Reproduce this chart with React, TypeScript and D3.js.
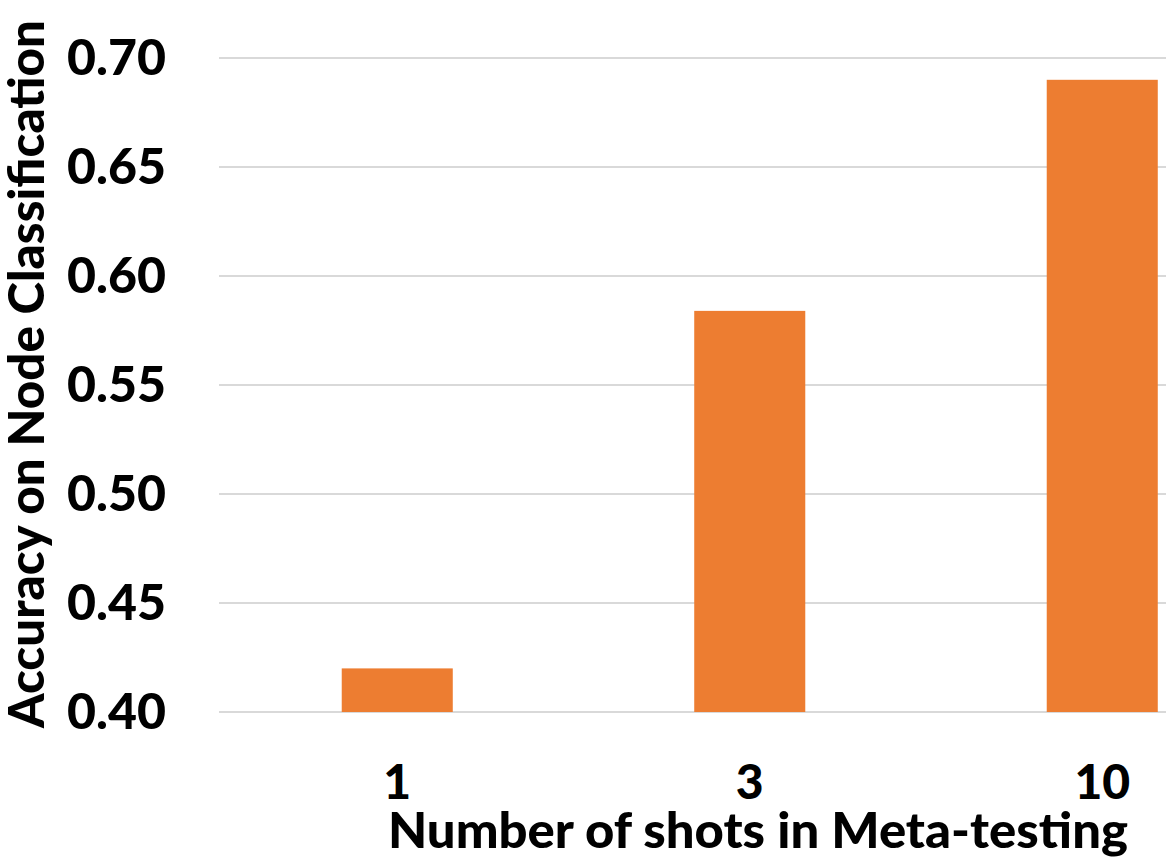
import React from "react";
import * as d3 from "d3";

const categories = ["1", "3", "10"];
const accuracy = [0.42, 0.584, 0.69];
const yTicks = [0.4, 0.45, 0.5, 0.55, 0.6, 0.65, 0.7];
const xTitle = "Number of shots in Meta-testing";
const yTitle = "Accuracy on Node Classification";

const W = 1166;
const H = 861;
const FONT = "Lato, 'Open Sans', sans-serif";

export default function App() {
  const x = d3
    .scaleBand<string>()
    .domain(categories)
    .range([221, 1278.5])
    .paddingInner(0.685)
    .paddingOuter(0.3425);
  const y = d3.scaleLinear().domain([0.4, 0.7]).range([712, 58]);
  const fmt = d3.format(".2f");

  return (
    <svg
      width={W}
      height={H}
      style={{ position: "absolute", left: 0, top: 0, background: "#fff" }}
    >
      <rect x={0} y={0} width={W} height={H} fill="#fff" />
      {yTicks.map((t) => (
        <line
          key={t}
          x1={219}
          x2={W}
          y1={y(t)}
          y2={y(t)}
          stroke="#d9d9d9"
          strokeWidth={2.2}
        />
      ))}
      {categories.map((c, i) => (
        <rect
          key={c}
          x={x(c)}
          y={y(accuracy[i])}
          width={x.bandwidth()}
          height={y(0.4) - y(accuracy[i])}
          fill="#ED7D31"
        />
      ))}
      {yTicks.map((t) => (
        <text
          key={t}
          x={166}
          y={y(t) + 17}
          textAnchor="end"
          fontFamily={FONT}
          fontWeight={900}
          fontSize={50}
          fill="#000"
        >
          {fmt(t)}
        </text>
      ))}
      {categories.map((c) => (
        <text
          key={c}
          x={(x(c) as number) + x.bandwidth() / 2}
          y={799}
          textAnchor="middle"
          fontFamily={FONT}
          fontWeight={900}
          fontSize={48}
          fill="#000"
        >
          {c}
        </text>
      ))}
      <text
        x={758}
        y={848}
        textAnchor="middle"
        fontFamily={FONT}
        fontWeight={900}
        fontSize={50}
        textLength={740}
        lengthAdjust="spacingAndGlyphs"
        fill="#000"
      >
        {xTitle}
      </text>
      <text
        transform="translate(44,374) rotate(-90)"
        textAnchor="middle"
        fontFamily={FONT}
        fontWeight={900}
        fontSize={49}
        textLength={708}
        lengthAdjust="spacingAndGlyphs"
        fill="#000"
      >
        {yTitle}
      </text>
    </svg>
  );
}
